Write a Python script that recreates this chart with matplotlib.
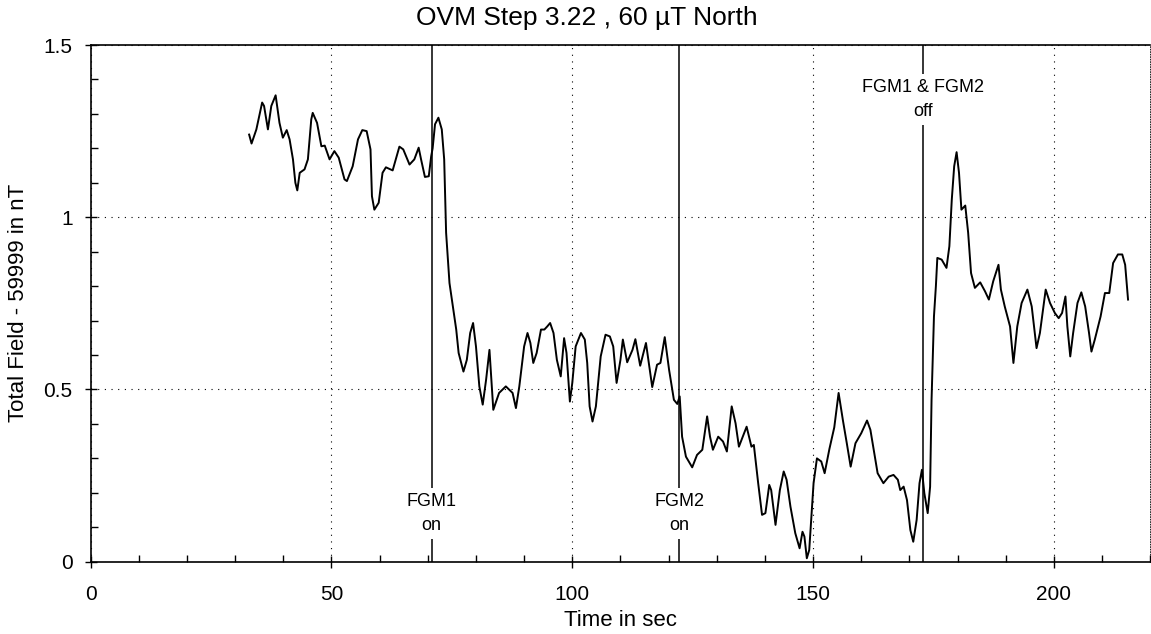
import numpy as np
import matplotlib
matplotlib.use('Agg')
import matplotlib.pyplot as plt

plt.rcParams['font.family'] = ['Liberation Sans', 'DejaVu Sans']

# Total field trace (time in sec, field - 59999 in nT)
t = [32.9, 33.4, 34.4, 35.6, 36.0, 36.8, 37.5, 38.4, 39.2, 39.9, 40.7, 41.3, 42.0, 42.5, 42.9,
     43.4, 44.4, 45.1, 45.8, 46.1, 47.0, 47.9, 48.6, 49.6, 50.6, 51.5, 52.7, 53.2, 54.4, 55.5,
     56.4, 57.3, 58.1, 58.4, 58.9, 59.8, 60.6, 61.3, 62.7, 64.1, 64.9, 66.2, 67.2, 68.1, 68.6,
     69.4, 70.2, 70.7, 71.0, 71.5, 72.2, 72.9, 73.4, 73.8, 74.5, 75.2, 75.9, 76.4, 77.4, 78.1,
     78.8, 79.4, 80.0, 80.7, 81.4, 82.1, 82.8, 83.1, 83.6, 84.8, 86.2, 87.6, 88.3, 89.0, 90.0,
     90.7, 91.3, 91.9, 92.6, 93.5, 94.2, 94.8, 95.4, 96.1, 96.8, 97.6, 98.3, 98.8, 99.5, 100.0,
     100.7, 101.8, 102.6, 103.1, 103.6, 104.2, 104.9, 105.9, 106.9, 107.8, 108.5, 109.2, 110.0,
     110.5, 111.4, 112.5, 113.1, 114.1, 115.3, 116.6, 117.6, 118.3, 119.2, 120.1, 121.1, 121.8,
     122.3, 122.8, 123.6, 124.9, 125.9, 127.0, 128.0, 128.6, 129.2, 130.3, 131.3, 132.1, 133.1,
     133.9, 134.6, 136.2, 137.2, 137.7, 138.6, 139.4, 140.1, 140.9, 141.3, 142.2, 143.1, 143.9,
     144.5, 145.3, 146.3, 147.2, 147.8, 148.2, 148.7, 149.2, 150.1, 150.8, 151.7, 152.4, 153.4,
     154.4, 155.3, 156.2, 157.0, 157.8, 158.8, 160.0, 161.2, 161.9, 162.6, 163.4, 164.6, 165.7,
     166.7, 167.6, 168.1, 168.8, 169.5, 170.2, 170.8, 171.5, 172.1, 172.6, 173.1, 173.8, 174.3,
     174.6, 175.1, 175.5, 175.8, 176.7, 177.7, 178.3, 178.8, 179.3, 179.8, 180.3, 180.8, 181.6,
     182.2, 182.8, 183.6, 184.7, 185.7, 186.5, 187.4, 188.5, 189.0, 189.8, 190.9, 191.6, 192.4,
     193.3, 194.5, 195.4, 196.4, 197.1, 198.3, 199.2, 200.2, 201.0, 201.7, 202.4, 202.8, 203.4,
     204.0, 204.9, 205.7, 206.5, 207.3, 207.8, 208.5, 209.7, 210.6, 211.5, 212.3, 213.3, 214.2,
     214.8, 215.4]
field = [1.240, 1.214, 1.255, 1.333, 1.323, 1.255, 1.323, 1.354, 1.274, 1.231, 1.253, 1.226, 1.168,
         1.100, 1.078, 1.129, 1.139, 1.168, 1.284, 1.303, 1.274, 1.206, 1.208, 1.168, 1.192, 1.173,
         1.110, 1.105, 1.148, 1.226, 1.253, 1.250, 1.197, 1.061, 1.022, 1.042, 1.129, 1.145, 1.136,
         1.205, 1.197, 1.153, 1.168, 1.202, 1.168, 1.117, 1.119, 1.177, 1.200, 1.270, 1.289, 1.255,
         1.168, 0.955, 0.809, 0.741, 0.674, 0.606, 0.552, 0.586, 0.664, 0.693, 0.625, 0.509, 0.456,
         0.528, 0.615, 0.548, 0.441, 0.490, 0.509, 0.490, 0.446, 0.509, 0.625, 0.664, 0.635, 0.577,
         0.606, 0.674, 0.674, 0.683, 0.693, 0.664, 0.586, 0.538, 0.649, 0.606, 0.465, 0.519, 0.625,
         0.664, 0.645, 0.577, 0.451, 0.407, 0.451, 0.596, 0.659, 0.654, 0.625, 0.519, 0.586, 0.645,
         0.579, 0.615, 0.646, 0.569, 0.635, 0.507, 0.572, 0.577, 0.652, 0.557, 0.470, 0.458, 0.480,
         0.363, 0.305, 0.274, 0.310, 0.325, 0.422, 0.363, 0.325, 0.363, 0.349, 0.320, 0.451, 0.402,
         0.334, 0.392, 0.334, 0.339, 0.228, 0.136, 0.141, 0.223, 0.208, 0.107, 0.208, 0.262, 0.238,
         0.160, 0.083, 0.039, 0.087, 0.073, 0.010, 0.034, 0.228, 0.300, 0.291, 0.257, 0.328, 0.390,
         0.490, 0.410, 0.344, 0.276, 0.344, 0.373, 0.410, 0.383, 0.325, 0.257, 0.228, 0.247, 0.252,
         0.238, 0.208, 0.218, 0.179, 0.092, 0.058, 0.121, 0.228, 0.267, 0.199, 0.141, 0.218, 0.470,
         0.712, 0.800, 0.882, 0.877, 0.853, 0.916, 1.051, 1.148, 1.189, 1.129, 1.022, 1.034, 0.955,
         0.838, 0.795, 0.811, 0.785, 0.761, 0.814, 0.862, 0.790, 0.741, 0.683, 0.577, 0.683, 0.751,
         0.790, 0.741, 0.620, 0.664, 0.790, 0.751, 0.722, 0.707, 0.722, 0.770, 0.683, 0.596, 0.664,
         0.751, 0.782, 0.741, 0.664, 0.610, 0.645, 0.712, 0.780, 0.780, 0.867, 0.892, 0.892, 0.862,
         0.761]

event_times = [70.8, 122.2, 172.9]
event_labels = ['FGM1\non', 'FGM2\non', 'FGM1 & FGM2\noff']
event_label_y = [0.14, 0.14, 1.342]

fig = plt.figure(figsize=(11.51, 6.34), dpi=100)
ax = fig.add_axes([0.0788, 0.114, 0.9205, 0.815])

ax.plot(t, field, color='black', lw=1.4, zorder=3)

for x, lab, y in zip(event_times, event_labels, event_label_y):
    ax.axvline(x, color='black', lw=1.1, zorder=2)
    ax.text(x, y, lab, ha='center', va='center', fontsize=13, linespacing=1.5,
            bbox=dict(facecolor='white', edgecolor='none', pad=4), zorder=4)

ax.set_xlim(0, 220)
ax.set_ylim(0, 1.5)
ax.set_xticks([0, 50, 100, 150, 200])
ax.set_xticks(np.arange(0, 221, 10), minor=True)
ax.set_yticks([0, 0.5, 1, 1.5])
ax.set_yticklabels(['0', '0.5', '1', '1.5'])
ax.set_yticks(np.arange(0, 1.51, 0.1), minor=True)

ax.grid(True, which='major', linestyle=(0, (1, 5)), color='black', lw=0.8)
ax.tick_params(which='major', direction='inout', length=8, width=1, labelsize=15)
ax.tick_params(axis='x', which='major', pad=12.5)
ax.tick_params(axis='y', which='major', pad=9)
ax.tick_params(which='minor', direction='in', length=5, width=1)

for side in ['left', 'bottom', 'top']:
    ax.spines[side].set_linewidth(1.2)
ax.spines['right'].set_linewidth(0.6)
ax.spines['right'].set_linestyle((0, (1, 2)))

ax.set_xlabel('Time in sec', fontsize=16)
ax.set_ylabel('Total Field - 59999 in nT', fontsize=16)
ax.xaxis.set_label_coords(0.5, -0.093)
ax.yaxis.set_label_coords(-0.058, 0.5)
fig.text(587 / 1151, 1 - 18 / 634, 'OVM Step 3.22 , 60 \u00b5T North', ha='center', va='center', fontsize=19)

fig.savefig('out.png', dpi=100)
